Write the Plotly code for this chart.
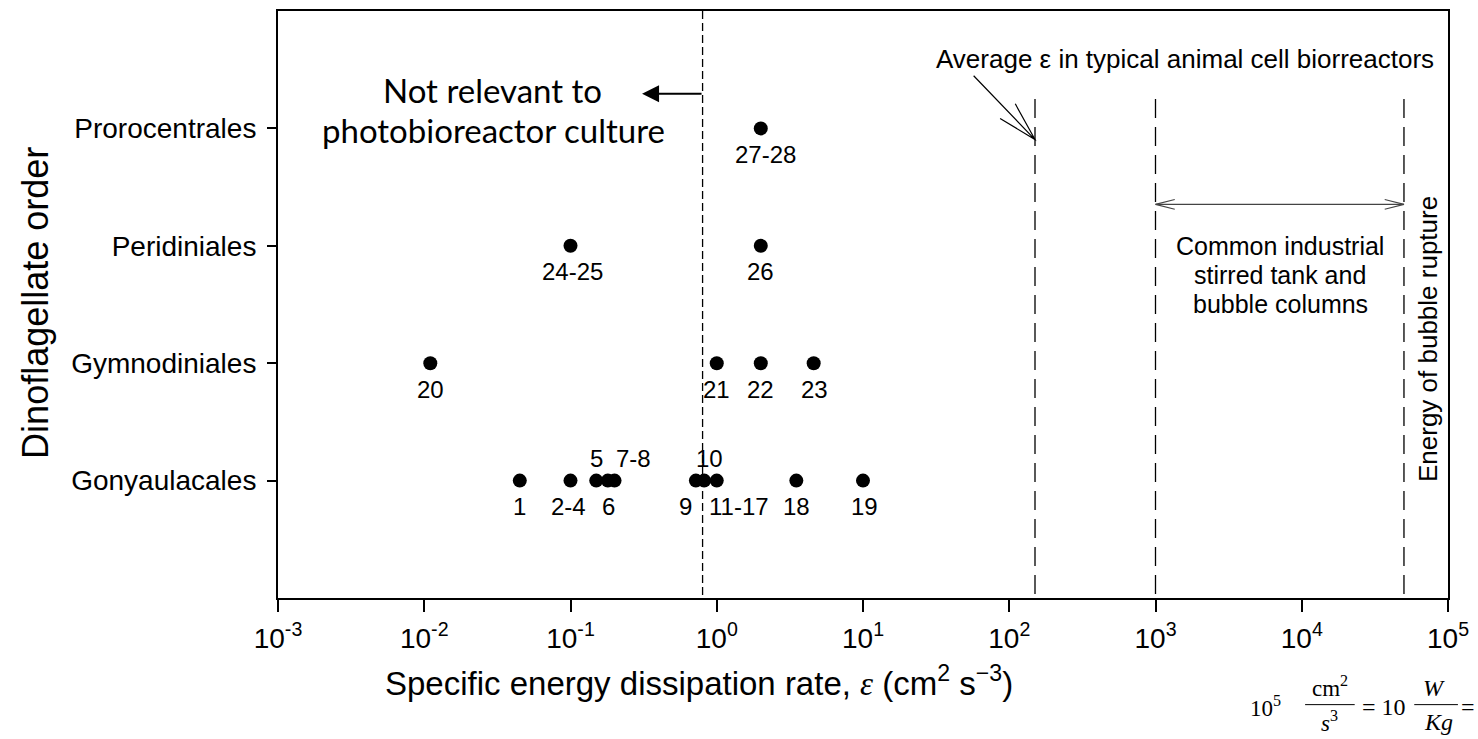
import math
import plotly.graph_objects as go

# ---- data -------------------------------------------------------------
orders = ["Gonyaulacales", "Gymnodiniales", "Peridiniales", "Prorocentrales"]

point_ids = ["1", "2-4", "5", "6", "7-8", "9", "10", "11-17", "18", "19",
             "20", "21", "22", "23",
             "24-25", "26",
             "27-28"]
point_order = (["Gonyaulacales"] * 10 + ["Gymnodiniales"] * 4
               + ["Peridiniales"] * 2 + ["Prorocentrales"])
point_eps = [0.045, 0.1, 0.15, 0.18, 0.2, 0.72, 0.82, 1.0, 3.5, 10.0,
             0.011, 1.0, 2.0, 4.6,
             0.1, 2.0,
             2.0]

photobioreactor_limit = 0.8          # cm2 s-3
animal_cell_average = 150            # cm2 s-3
industrial_range = [1000, 50000]     # cm2 s-3 (upper end: bubble rupture)

x_tick_vals = [1e-3, 1e-2, 1e-1, 1e0, 1e1, 1e2, 1e3, 1e4, 1e5]
x_tick_text = ["10<sup>-3</sup>", "10<sup>-2</sup>", "10<sup>-1</sup>",
               "10<sup>0</sup>", "10<sup>1</sup>", "10<sup>2</sup>",
               "10<sup>3</sup>", "10<sup>4</sup>", "10<sup>5</sup>"]

# label placement: (vertical side, horizontal nudge in px)
label_place = {"1": ("below", 0), "2-4": ("below", -2), "5": ("above", 0),
               "6": ("below", 1), "7-8": ("above", 19), "9": ("below", -10),
               "10": ("above", 5), "11-17": ("below", 22), "18": ("below", 0),
               "19": ("below", 1), "20": ("below", 0), "21": ("below", 0),
               "22": ("below", 0), "23": ("below", 1), "24-25": ("below", 2),
               "26": ("below", 0), "27-28": ("below", 5)}

# ---- geometry ----------------------------------------------------------
W_FIG, H_FIG = 1478, 739
M_L, M_R, M_T, M_B = 278, 21, 9, 141
PW = W_FIG - M_L - M_R
PH = H_FIG - M_T - M_B
X_RANGE = [-3, 5]
Y_RANGE = [0, 5]

ARIAL = "Arial, 'Liberation Sans', sans-serif"
SERIF = "'Times New Roman', 'Liberation Serif', serif"
CALIBRI_LIKE = "Lato, 'Open Sans', sans-serif"


def px_to_paper(px, py):
    return (px - M_L) / PW, (H_FIG - M_B - py) / PH


def x_to_px(v):
    return M_L + PW * (math.log10(v) - X_RANGE[0]) / (X_RANGE[1] - X_RANGE[0])


def y_to_px(v):
    return H_FIG - M_B - PH * (v - Y_RANGE[0]) / (Y_RANGE[1] - Y_RANGE[0])


y_of = {name: i + 1 for i, name in enumerate(orders)}

fig = go.Figure()

# reference lines
fig.add_trace(go.Scatter(
    x=[photobioreactor_limit, photobioreactor_limit], y=[5, 0], mode="lines",
    line=dict(color="black", width=1.3, dash="8px,4px"),
    hoverinfo="skip", showlegend=False))
for v in [animal_cell_average] + industrial_range:
    fig.add_trace(go.Scatter(
        x=[v, v], y=[4.25, 0], mode="lines",
        line=dict(color="black", width=1.3, dash="19px,9px"),
        hoverinfo="skip", showlegend=False))

# range bar between industrial limits
bar_y = 3.353
fig.add_trace(go.Scatter(
    x=industrial_range, y=[bar_y, bar_y], mode="lines",
    line=dict(color="#444", width=1.2),
    hoverinfo="skip", showlegend=False))

# data points
fig.add_trace(go.Scatter(
    x=point_eps, y=[y_of[o] for o in point_order], mode="markers",
    marker=dict(color="black", size=14),
    hoverinfo="skip", showlegend=False))

annotations = []
for pid, o, e in zip(point_ids, point_order, point_eps):
    side, dx = label_place[pid]
    annotations.append(dict(
        x=math.log10(e), y=y_of[o], xref="x", yref="y", text=pid,
        showarrow=False, xshift=dx, yshift=(-26 if side == "below" else 22),
        xanchor="center", yanchor="middle",
        font=dict(family=ARIAL, size=24, color="black")))


def text_at(px, py, text, size, family=ARIAL, angle=0, anchor="center"):
    xp, yp = px_to_paper(px, py)
    annotations.append(dict(
        x=xp, y=yp, xref="paper", yref="paper", text=text, showarrow=False,
        xanchor=anchor, yanchor="middle", textangle=angle,
        font=dict(family=family, size=size, color="black")))


# axis titles
text_at(33, 302, "Dinoflagellate order", 36, angle=-90)
text_at(702, 681,
        "Specific energy dissipation rate, "
        "<span style='font-family:Liberation Serif'><i>ε</i></span>"
        " (cm<sup>2</sup> s<sup>−3</sup>)", 33)

# region notes
text_at(494, 88, "Not relevant to", 33, family=CALIBRI_LIKE)
text_at(495, 128, "photobioreactor culture", 33, family=CALIBRI_LIKE)
text_at(1192, 57, "Average ε in typical animal cell biorreactors", 26)
text_at(1288, 245, "Common industrial", 25)
text_at(1288, 274, "stirred tank and", 25)
text_at(1288, 303, "bubble columns", 25)
text_at(1437, 338, "Energy of bubble rupture", 26, angle=-90)

# unit conversion note
text_at(1273, 707, "10<sup>5</sup>", 23, family=SERIF)
text_at(1338, 687, "cm<sup>2</sup>", 23, family=SERIF)
text_at(1338, 722, "<i>s</i><sup>3</sup>", 23, family=SERIF)
text_at(1393, 707, "= 10", 24, family=SERIF)
text_at(1443, 688, "<i>W</i>", 24, family=SERIF)
text_at(1447, 722, "<i>Kg</i>", 24, family=SERIF)
text_at(1468, 707, "=", 24, family=SERIF, anchor="left")

# filled arrow pointing away from the photobioreactor limit
tail_px = x_to_px(photobioreactor_limit)
tip = px_to_paper(tail_px - 61, 92)
annotations.append(dict(
    x=tip[0], y=tip[1], xref="paper", yref="paper", ax=61, ay=0,
    axref="pixel", ayref="pixel", text="", showarrow=True,
    arrowhead=2, arrowsize=1.7, arrowwidth=2, arrowcolor="black"))

shapes = []


def open_arrow(tip_px, tail_px, arm=20, spread=12, width=1.2, color="black",
               draw_shaft=True):
    tx, ty = tip_px
    ux, uy = tail_px[0] - tx, tail_px[1] - ty
    n = math.hypot(ux, uy)
    ux, uy = ux / n, uy / n
    pts = []
    for s in (1, -1):
        a = math.radians(spread) * s
        rx = ux * math.cos(a) - uy * math.sin(a)
        ry = ux * math.sin(a) + uy * math.cos(a)
        pts.append((tx + arm * rx, ty + arm * ry))
    p1 = px_to_paper(*pts[0])
    p0 = px_to_paper(tx, ty)
    p2 = px_to_paper(*pts[1])
    path = f"M {p1[0]},{p1[1]} L {p0[0]},{p0[1]} L {p2[0]},{p2[1]}"
    if draw_shaft:
        pt = px_to_paper(*tail_px)
        path += f" M {p0[0]},{p0[1]} L {pt[0]},{pt[1]}"
    shapes.append(dict(type="path", xref="paper", yref="paper", path=path,
                       line=dict(color=color, width=width)))


# pointer to the animal-cell average line
avg_tip = (x_to_px(animal_cell_average), 138)
open_arrow(avg_tip, (979, 74), arm=41, spread=15, width=1.2)

# chevrons on the industrial range bar
bar_py = y_to_px(bar_y)
lo_px, hi_px = x_to_px(industrial_range[0]), x_to_px(industrial_range[1])
open_arrow((lo_px, bar_py), (hi_px, bar_py), arm=20, spread=14, width=1.1,
           color="#444", draw_shaft=False)
open_arrow((hi_px, bar_py), (lo_px, bar_py), arm=20, spread=14, width=1.1,
           color="#444", draw_shaft=False)

# fraction bars in the unit note
for x0, x1 in [(1313, 1363), (1423, 1467)]:
    a = px_to_paper(x0, 705)
    b = px_to_paper(x1, 705)
    shapes.append(dict(type="line", xref="paper", yref="paper",
                       x0=a[0], y0=a[1], x1=b[0], y1=b[1],
                       line=dict(color="black", width=1)))

axis_common = dict(showline=True, mirror=True, linecolor="black", linewidth=2,
                   showgrid=False, zeroline=False, ticks="outside",
                   tickcolor="black", tickwidth=1.5, ticklabeloverflow="allow",
                   tickfont=dict(family=ARIAL, size=28, color="black"))

fig.update_layout(
    width=W_FIG, height=H_FIG,
    margin=dict(l=M_L, r=M_R, t=M_T, b=M_B, pad=0),
    plot_bgcolor="white", paper_bgcolor="white",
    xaxis=dict(type="log", range=X_RANGE, tickvals=x_tick_vals,
               ticktext=x_tick_text, ticklen=12, ticklabelstandoff=2,
               **axis_common),
    yaxis=dict(range=Y_RANGE, tickvals=[1, 2, 3, 4], ticktext=orders,
               ticklen=9, ticklabelstandoff=5, **axis_common),
    annotations=annotations,
    shapes=shapes,
    showlegend=False,
)

fig.write_html("out.html")
